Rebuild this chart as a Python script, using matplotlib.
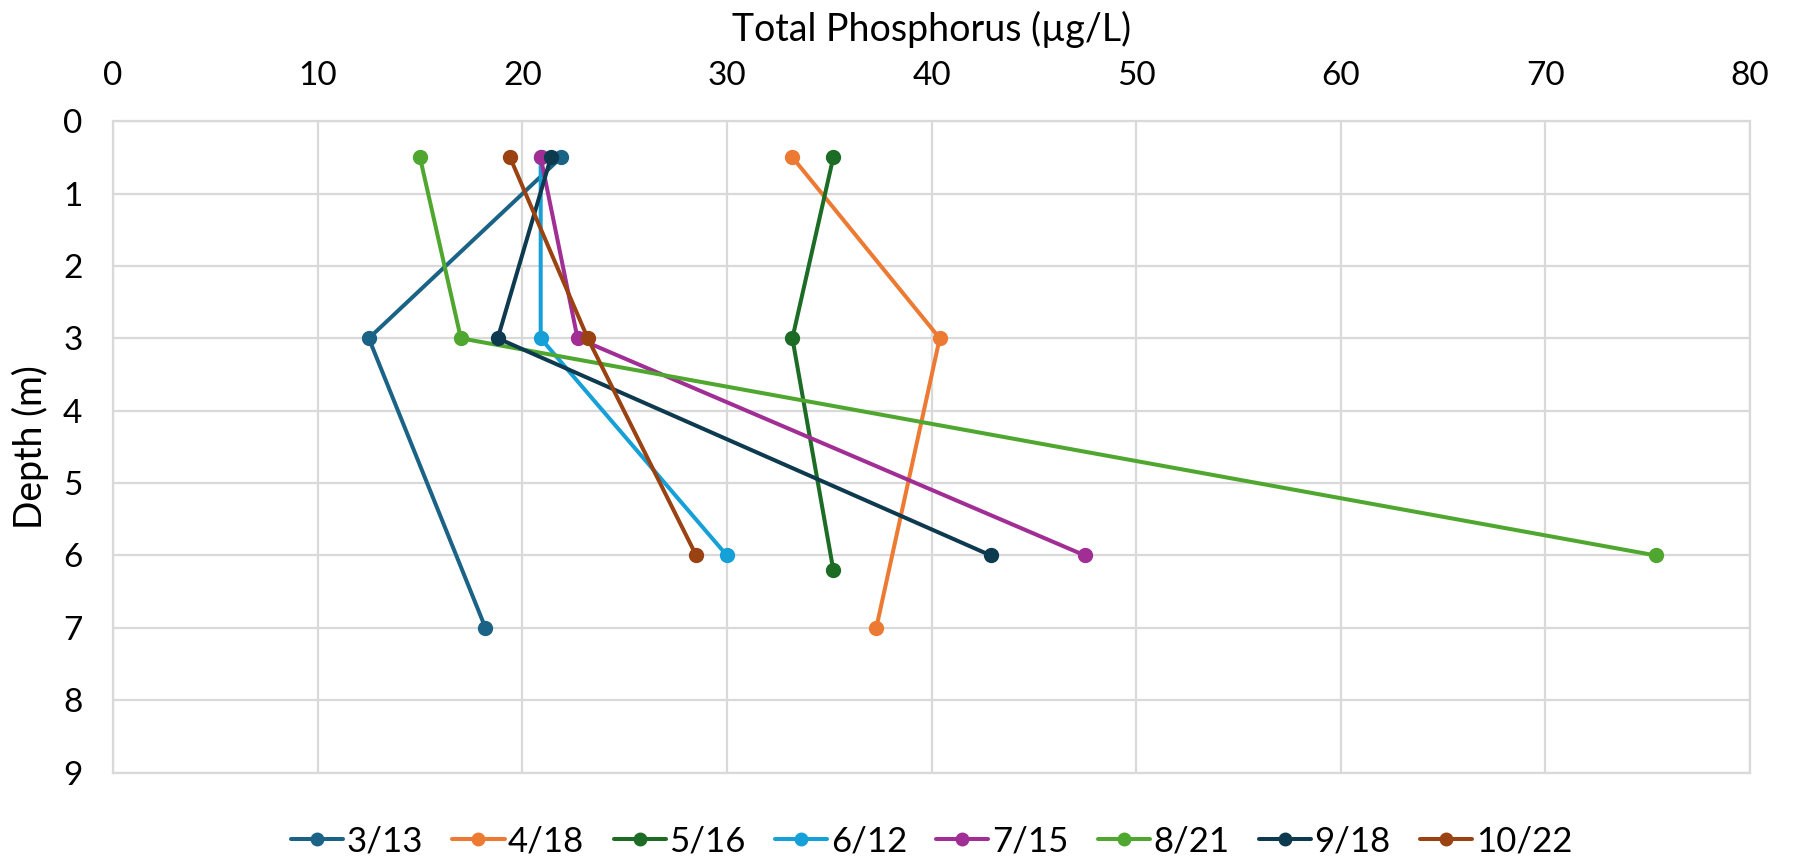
import matplotlib.pyplot as plt
from matplotlib.ticker import MultipleLocator

plt.rcParams['font.family'] = ['Lato', 'DejaVu Sans']

dates = ['3/13', '4/18', '5/16', '6/12', '7/15', '8/21', '9/18', '10/22']
colors = ['#1b6386', '#ec7a33', '#1d6c25', '#16a0d8', '#a12e95', '#4fa72f', '#0e3a50', '#9a4212']

# (total phosphorus, depth) per sampling date
tp = {
    '3/13': [21.9, 12.5, 18.2],
    '4/18': [33.2, 40.4, 37.3],
    '5/16': [35.2, 33.2, 35.2],
    '6/12': [20.9, 20.9, 30.0],
    '7/15': [20.9, 22.7, 47.5],
    '8/21': [15.0, 17.0, 75.4],
    '9/18': [21.4, 18.8, 42.9],
    '10/22': [19.4, 23.2, 28.5],
}
depth = {
    '3/13': [0.5, 3, 7],
    '4/18': [0.5, 3, 7],
    '5/16': [0.5, 3, 6.2],
    '6/12': [0.5, 3, 6],
    '7/15': [0.5, 3, 6],
    '8/21': [0.5, 3, 6],
    '9/18': [0.5, 3, 6],
    '10/22': [0.5, 3, 6],
}

fig = plt.figure(figsize=(17.94, 8.59), dpi=100)
ax = fig.add_axes([0.063, 0.1005, 0.9125, 0.7585])

for d, c in zip(dates, colors):
    ax.plot(tp[d], depth[d], color=c, lw=2.9, marker='o', ms=10, label=d,
            solid_capstyle='round')

ax.set_xlim(0, 80)
ax.set_ylim(9, 0)
ax.xaxis.set_major_locator(MultipleLocator(10))
ax.yaxis.set_major_locator(MultipleLocator(1))
ax.xaxis.tick_top()
ax.xaxis.set_label_position('top')
ax.grid(True, color='#d9d9d9', lw=1.6)
ax.set_axisbelow(True)
for s in ax.spines.values():
    s.set_color('#d9d9d9')
    s.set_linewidth(1.6)
ax.tick_params(length=0, labelsize=24, colors='black', pad=22)
ax.set_xlabel('Total Phosphorus (µg/L)', fontsize=27, labelpad=14)
ax.set_ylabel('Depth (m)', fontsize=27, labelpad=10)

ax.legend(loc='lower center', bbox_to_anchor=(0.5, -0.178), ncol=8, frameon=False,
          fontsize=25, handlelength=1.5, handletextpad=0.1, columnspacing=0.85,
          markerscale=0.9)

fig.savefig('out.png', dpi=100)
